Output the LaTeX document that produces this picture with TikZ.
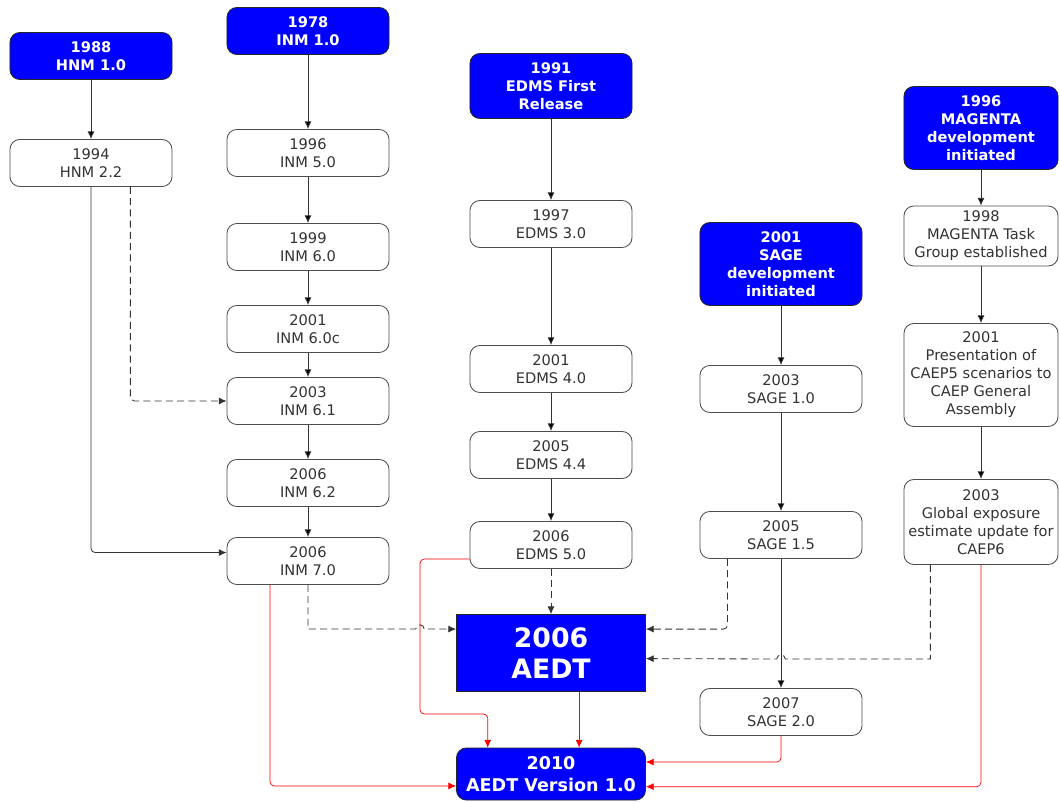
\documentclass[tikz,border=0pt]{standalone}
\usepackage{fontspec}
\setmainfont{DejaVu Sans}
\usetikzlibrary{arrows.meta}
\usetikzlibrary{positioning,shapes}

\tikzset{
  release/.style={draw=black!70, rounded corners=7pt, fill=white, text=black!80,
    align=center, minimum width=4.05cm, minimum height=1.175cm, inner sep=2pt,
    font=\fontsize{10.4}{12.8}\selectfont},
  origin/.style={release, fill=blue, draw=black!85, text=white,
    font=\fontsize{10.4}{12.8}\selectfont\bfseries},
  flow/.style={draw=black!80, rounded corners=3pt},
  feeds/.style={flow, dash pattern=on 5pt off 3pt},
  link/.style={draw=red, line width=0.5pt, rounded corners=3pt}
}

\begin{document}
\begin{tikzpicture} [->,>={Latex[length=5.5pt,width=5pt]},x=0.025cm,y=-0.025cm,line width=0.6pt]
  \useasboundingbox (0,0) rectangle (1060,802);

  \node[origin] (hnm1) at (91,56) {1988\\HNM 1.0};
  \node[release] (hnm2) at (91,163) {1994\\HNM 2.2};

  \node[origin] (inm1) at (308,31) {1978\\INM 1.0};
  \node[release] (inm5) at (308,153) {1996\\INM 5.0};
  \node[release] (inm6) at (308,247) {1999\\INM 6.0};
  \node[release] (inm6c) at (308,329) {2001\\INM 6.0c};
  \node[release] (inm61) at (308,401) {2003\\INM 6.1};
  \node[release] (inm62) at (308,483) {2006\\INM 6.2};
  \node[release] (inm7) at (308,561) {2006\\INM 7.0};

  \node[origin, minimum height=1.625cm] (edms1) at (551,86) {1991\\EDMS First\\Release};
  \node[release] (edms3) at (551,224) {1997\\EDMS 3.0};
  \node[release] (edms4) at (551,369) {2001\\EDMS 4.0};
  \node[release] (edms44) at (551,455) {2005\\EDMS 4.4};
  \node[release] (edms5) at (551,545) {2006\\EDMS 5.0};

  \node[origin, minimum height=2.075cm] (sage0) at (781,264) {2001\\SAGE\\development\\initiated};
  \node[release] (sage1) at (781,389) {2003\\SAGE 1.0};
  \node[release] (sage15) at (781,535) {2005\\SAGE 1.5};
  \node[release] (sage2) at (781,712) {2007\\SAGE 2.0};

  \node[origin, minimum width=3.85cm, minimum height=2.075cm] (mag0) at (981,128) {1996\\MAGENTA\\development\\initiated};
  \node[release, minimum width=3.85cm, minimum height=1.5cm] (mag1) at (981,236) {1998\\MAGENTA Task\\Group established};
  \node[release, minimum width=3.85cm, minimum height=2.575cm] (mag2) at (981,375) {2001\\Presentation of\\CAEP5 scenarios to\\CAEP General\\Assembly};
  \node[release, minimum width=3.85cm, minimum height=2.125cm] (mag3) at (981,522) {2003\\Global exposure\\estimate update for\\CAEP6};

  \node[origin, rounded corners=0pt, minimum width=4.725cm, minimum height=1.925cm,
    font=\fontsize{19}{22}\selectfont\bfseries] (aedt) at (551,653) {2006\\AEDT};
  \node[origin, minimum width=4.725cm, minimum height=1.3cm,
    font=\fontsize{12.5}{16}\selectfont\bfseries] (aedt1) at (551,774) {2010\\AEDT Version 1.0};

  % line hops
  \coordinate (hopa) at (420,629);
  \coordinate (hopb) at (781,659);

  \path[flow]
    (hnm1) edge (hnm2)
    (inm1) edge (inm5)
    (inm5) edge (inm6)
    (inm6) edge (inm6c)
    (inm6c) edge (inm61)
    (inm61) edge (inm62)
    (inm62) edge (inm7)
    (edms1) edge (edms3)
    (edms3) edge (edms4)
    (edms4) edge (edms44)
    (edms44) edge (edms5)
    (sage0) edge (sage1)
    (sage1) edge (sage15)
    (sage15) edge (sage2)
    (mag0) edge (mag1)
    (mag1) edge (mag2)
    (mag2) edge (mag3);

  \draw[flow] (hnm2.south) |- ([yshift=6pt]inm7.west);
  \draw[feeds] ([xshift=28pt]hnm2.south) |- (inm61.west);

  % into the 2006 AEDT
  \draw[feeds, sharp corners] (inm7.south) |- ([xshift=-3pt]hopa) arc[start angle=180, end angle=0, radius=3pt] -- ([yshift=17pt]aedt.west);
  \draw[feeds] (edms5) -- (aedt);
  \draw[feeds] ([xshift=-38pt]sage15.south) |- ([yshift=17pt]aedt.east);
  \draw[feeds, sharp corners] ([xshift=-36pt]mag3.south) |- ([xshift=3pt]hopb) arc[start angle=0, end angle=180, radius=3pt] -- ([yshift=-4pt]aedt.east);

  % into version 1.0
  \draw[link] ([xshift=-27pt]inm7.south) |- ([yshift=-8.5pt]aedt1.west);
  \draw[link] ([yshift=-10pt]edms5.west) -| (420,714) -| ([xshift=-45pt]aedt1.north);
  \draw[link] ([xshift=20pt]aedt.south) -- ([xshift=20pt]aedt1.north);
  \draw[link] (sage2.south) |- ([yshift=8.5pt]aedt1.east);
  \draw[link] (mag3.south) |- ([yshift=-9pt]aedt1.east);

\end{tikzpicture}
\end{document}
